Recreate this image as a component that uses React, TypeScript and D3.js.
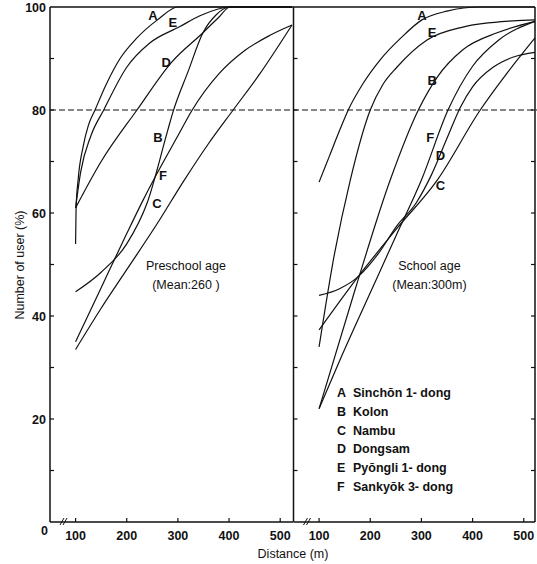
import React from 'react';
import * as d3 from 'd3';

// tick labels
const xTicks = [100, 200, 300, 400, 500];
const yLabels = [0, 20, 40, 60, 80, 100];
const yMinor = [10, 20, 30, 40, 50, 60, 70, 80, 90];

// series ids and names
const ids = ['A', 'B', 'C', 'D', 'E', 'F'];
const names = ['Sinchŏn 1- dong', 'Kolon', 'Nambu', 'Dongsam', 'Pyŏngli 1- dong', 'Sankyŏk 3- dong'];

// preschool age curves: [distance m, % users]
const preA = [[100, 54], [101, 61], [105, 66.5], [115, 73], [125, 77], [138, 80], [160, 85], [187, 90], [220, 94], [260, 97.5], [300, 100], [523, 100]];
const preB = [[100, 44.7], [150, 48.5], [200, 54], [240, 62], [280, 76], [290, 79.5], [320, 87.5], [349, 95], [375, 98.5], [400, 100], [523, 100]];
const preC = [[100, 33.5], [150, 41.5], [200, 49], [260, 58], [310, 66], [360, 73.5], [408, 80], [460, 87], [523, 96.5]];
const preD = [[100, 61], [150, 70], [220, 80], [288, 89.3], [349, 95], [380, 98], [402, 100], [523, 100]];
const preE = [[100, 61], [110, 68], [130, 75], [155, 80], [200, 88.3], [245, 93], [304, 96.2], [343, 98.3], [402, 100], [523, 100]];
const preF = [[100, 35], [150, 45.5], [200, 56], [232, 62.5], [261, 68], [300, 75], [328, 80], [380, 87], [430, 91.5], [480, 94.5], [523, 96.5]];

// school age curves
const schA = [[100, 66], [120, 71], [140, 76], [157, 80], [185, 85], [219, 89.7], [260, 94], [301, 97.5], [350, 99.2], [415, 100], [522, 100]];
const schB = [[100, 22], [170, 45], [239, 66.4], [294, 80], [331, 86.4], [381, 91.7], [448, 95], [522, 97.2]];
const schC = [[100, 37.3], [176, 47.6], [252, 57], [331, 66.4], [415, 80], [470, 87.5], [522, 94]];
const schD = [[100, 44], [140, 45.3], [176, 47.6], [215, 52], [252, 57.5], [290, 62], [320, 67.5], [350, 74.5], [376, 80.5], [400, 84.5], [440, 88.3], [480, 90.3], [522, 91.2]];
const schE = [[100, 34], [130, 52], [161, 66.4], [200, 80], [225, 85], [252, 88.3], [311, 93.6], [381, 96.1], [479, 97.3], [522, 97.5]];
const schF = [[100, 22], [141, 31.5], [200, 44.5], [250, 55.5], [300, 66.4], [352, 80], [400, 88.5], [450, 93.5], [522, 97.2]];

// curve letter positions, in data units (A..F)
const preLabels = [[251, 98.4], [261, 74.8], [259, 62], [277, 89.3], [290, 97.1], [271, 67.4]];
const schLabels = [[301, 98.4], [321, 85.8], [337, 65.4], [337, 71.3], [321, 95.1], [317, 74.8]];

const W = 537;
const H = 564;
const FONT = '"Liberation Sans", Arial, sans-serif';

const y = d3.scaleLinear().domain([0, 100]).range([522, 7]);
const xL = d3.scaleLinear().domain([50, 525]).range([50, 293]);
const xR = d3.scaleLinear().domain([50, 522]).range([293.5, 535]);

const Panel = ({ x, curves, labels, title, mean }) => {
  const line = d3.line()
    .x(d => x(d[0]))
    .y(d => y(d[1]))
    .curve(d3.curveMonotoneX);
  const [x0, x1] = x.range();
  const cx = x(300) + 8;
  return (
    <g>
      {curves.map((c, i) => (
        <path key={i} d={line(c)} fill="none" stroke="#111" strokeWidth={1.2} />
      ))}
      {labels.map((p, i) => (
        <text key={i} x={x(p[0])} y={y(p[1]) + 5} textAnchor="middle" fontSize={13} fontWeight="bold">{ids[i]}</text>
      ))}
      {/* x axis */}
      <line x1={x0} x2={x1} y1={y(0)} y2={y(0)} stroke="#111" strokeWidth={1.5} />
      {xTicks.map(t => (
        <g key={t}>
          <line x1={x(t)} x2={x(t)} y1={y(0)} y2={y(0) - 4} stroke="#111" strokeWidth={1.2} />
          <text x={x(t)} y={540} textAnchor="middle" fontSize={12.5} fontWeight="bold">{t}</text>
        </g>
      ))}
      {/* axis break */}
      <line x1={x0 + 10} x2={x0 + 14} y1={y(0) + 3} y2={y(0) - 4} stroke="#111" strokeWidth={1} />
      <line x1={x0 + 13} x2={x0 + 17} y1={y(0) + 3} y2={y(0) - 4} stroke="#111" strokeWidth={1} />
      {/* left edge ticks */}
      <line x1={x0} x2={x0} y1={y(0)} y2={y(100)} stroke="#111" strokeWidth={1.5} />
      {yMinor.map(t => (
        <line key={t} x1={x0} x2={x0 + 4} y1={y(t)} y2={y(t)} stroke="#111" strokeWidth={1.2} />
      ))}
      <text x={cx} y={270} textAnchor="middle" fontSize={12.5}>{title}</text>
      <text x={cx} y={289} textAnchor="middle" fontSize={12.5}>{mean}</text>
    </g>
  );
};

export default function App() {
  return (
    <svg width={W} height={H} style={{ position: 'absolute', left: 0, top: 0, background: '#fff' }}
      fontFamily={FONT} fill="#111">
      <Panel x={xL} curves={[preA, preB, preC, preD, preE, preF]} labels={preLabels}
        title="Preschool age" mean="(Mean:260 )" />
      <Panel x={xR} curves={[schA, schB, schC, schD, schE, schF]} labels={schLabels}
        title="School age" mean="(Mean:300m)" />

      {/* frame top and right */}
      <line x1={50} x2={535} y1={y(100)} y2={y(100)} stroke="#111" strokeWidth={1.5} />
      <line x1={535} x2={535} y1={y(0)} y2={y(100)} stroke="#111" strokeWidth={1.5} />
      {yMinor.map(t => (
        <line key={t} x1={535} x2={531} y1={y(t)} y2={y(t)} stroke="#111" strokeWidth={1.2} />
      ))}

      {/* 80% reference */}
      <line x1={50} x2={537} y1={y(80)} y2={y(80)} stroke="#111" strokeWidth={1.2} strokeDasharray="6,3" />

      {/* y labels */}
      {yLabels.map(t => (
        <text key={t} x={t === 0 ? 48 : 46} y={t === 0 ? 535 : y(t) + 5} textAnchor="end" fontSize={12.5} fontWeight="bold">{t}</text>
      ))}
      <text transform={`translate(24,${265}) rotate(-90)`} textAnchor="middle" fontSize={12.5}>Number of user (%)</text>
      <text x={293} y={558} textAnchor="middle" fontSize={12.5}>Distance (m)</text>

      {/* legend */}
      {ids.map((id, i) => (
        <g key={id} transform={`translate(337,${397 + i * 18.8})`}>
          <text x={0} y={0} fontSize={12.5} fontWeight="bold">{id}</text>
          <text x={16} y={0} fontSize={12.5} fontWeight="bold">{names[i]}</text>
        </g>
      ))}
    </svg>
  );
}
